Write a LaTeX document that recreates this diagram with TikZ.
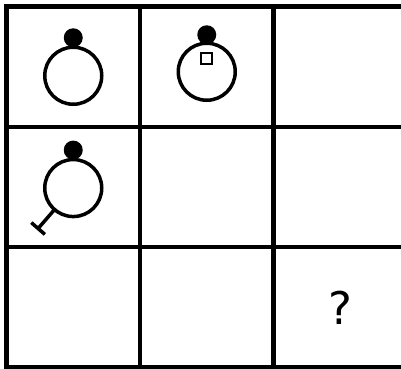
\documentclass[tikz,border=0pt]{standalone}
\usepackage{fontspec}
\newfontfamily\qfont{DejaVu Sans}
\usetikzlibrary{positioning,calc}

\begin{document}
\begin{tikzpicture}[
  x=1pt, y=-1pt,
  cell/.style={
    draw, rectangle, line width=4.5pt,
    minimum width=133.5pt, minimum height=120.3pt,
    inner sep=0pt, outer sep=0pt
  },
  ring/.style={draw, circle, line width=3.5pt, minimum size=57pt, inner sep=0pt, outer sep=0pt},
  knob/.style={circle, fill=black, minimum size=19pt, inner sep=0pt, outer sep=0pt},
  box/.style={draw, rectangle, line width=2.2pt, minimum size=11pt, inner sep=0pt},
  bar/.style={line width=3.5pt},
]
\useasboundingbox (0,0) rectangle (401,368);

%% 3x3 grid
\node[cell] (c11) at (73.25,66.75) {};
\node[cell, right=0pt of c11] (c12) {};
\node[cell, right=0pt of c12] (c13) {};
\node[cell, below=0pt of c11] (c21) {};
\node[cell, right=0pt of c21] (c22) {};
\node[cell, right=0pt of c22] (c23) {};
\node[cell, below=0pt of c21] (c31) {};
\node[cell, right=0pt of c31] (c32) {};
\node[cell, right=0pt of c32] (c33) {};

%% first cell: plain ring
\node[ring] (r11) at ($(c11)+(0,9)$) {};
\node[knob, above=0pt of r11] (k11) {};

%% second cell: ring with small square
\node[ring] (r12) at ($(c12)+(0,5)$) {};
\node[knob, above=-1pt of r12] (k12) {};
\node[box] (s12) at ($(r12)+(0,-13)$) {};

%% fourth cell: ring with handle
\node[ring] (r21) at ($(c21)+(0,1)$) {};
\node[knob, above=0pt of r21] (k21) {};
\coordinate (t21) at ($(r21.center)!1.88!(r21.229)$);
\draw[bar] (r21.229) -- (t21);
\draw[bar] ($(t21)!9pt!90:(r21.center)$) -- ($(t21)!9pt!-90:(r21.center)$);

%% missing cell
\node[font=\qfont\fontsize{45}{50}\selectfont] (q33) at (c33) {?};
\end{tikzpicture}
\end{document}
